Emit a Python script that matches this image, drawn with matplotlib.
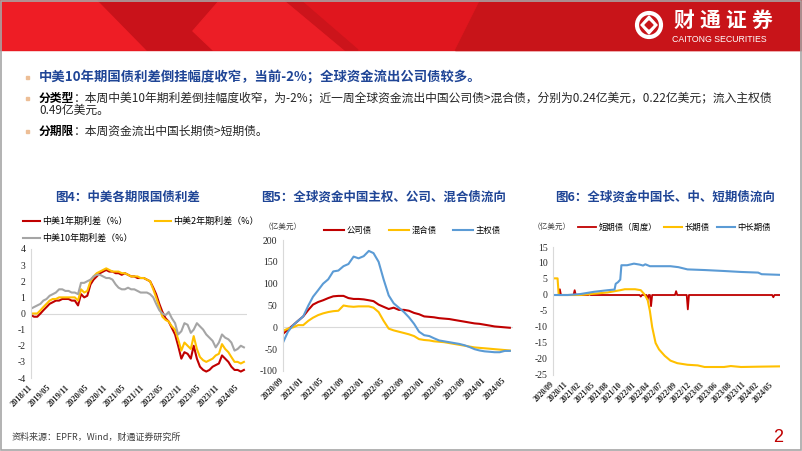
import matplotlib
matplotlib.use("Agg")
import matplotlib.pyplot as plt
from matplotlib.patches import Polygon, Rectangle, Circle
import pandas as pd

plt.rcParams['font.family'] = ['Noto Sans CJK SC', 'DejaVu Sans']

W, H = 802, 451

# ---------------- 图4 data: monthly, 2018/11 - 2024/07 ----------------
c1_dates = pd.date_range('2018-11-01', '2024-07-01', freq='MS')
c1_1y = [-0.1, -0.2,
         -0.2, 0.0, 0.2, 0.4, 0.6, 0.7, 0.8, 0.8, 0.9, 0.9, 0.9, 0.8,
         0.8, 0.5, 1.2, 1.0, 1.1, 1.8, 2.1, 2.3, 2.5, 2.6, 2.7, 2.6,
         2.6, 2.5, 2.5, 2.4, 2.5, 2.4, 2.3, 2.3, 2.2, 2.2, 2.2, 2.1,
         2.0, 1.6, 1.2, 0.6, 0.1, -0.3, -0.5, -0.9, -1.3, -2.0, -2.8, -2.4,
         -2.5, -2.8, -2.0, -2.8, -3.3, -3.5, -3.6, -3.5, -3.3, -3.2, -3.1, -2.6,
         -2.8, -3.0, -3.3, -3.5, -3.5, -3.6, -3.5]
c1_2y = [0.0, 0.0,
         0.0, 0.2, 0.4, 0.6, 0.8, 0.9, 0.9, 1.0, 1.0, 1.0, 1.0, 1.0,
         1.0, 0.8, 1.5, 1.3, 1.4, 2.0, 2.3, 2.5, 2.6, 2.7, 2.8, 2.7,
         2.6, 2.6, 2.6, 2.5, 2.5, 2.4, 2.3, 2.3, 2.3, 2.2, 2.2, 2.1,
         2.0, 1.5, 1.0, 0.4, -0.2, -0.4, -0.5, -0.8, -1.0, -1.6, -2.3, -1.8,
         -2.0, -2.2, -1.4, -2.2, -2.7, -2.9, -3.0, -2.9, -2.8, -2.6, -2.5, -1.9,
         -2.2, -2.4, -2.7, -3.0, -3.0, -3.1, -3.0]
c1_10y = [0.3, 0.4,
          0.5, 0.6, 0.8, 0.9, 1.1, 1.2, 1.3, 1.5, 1.5, 1.4, 1.4, 1.3,
          1.3, 1.2, 1.9, 1.9, 2.0, 2.1, 2.3, 2.4, 2.4, 2.3, 2.2, 2.2,
          2.1, 1.8, 1.6, 1.5, 1.5, 1.6, 1.5, 1.5, 1.4, 1.3, 1.3, 1.3,
          1.2, 1.0, 0.6, 0.2, 0.0, -0.1, 0.1, -0.3, -0.6, -1.3, -1.1, -0.6,
          -0.7, -1.2, -1.0, -0.6, -0.8, -1.0, -1.3, -1.5, -1.7, -2.1, -1.8, -1.3,
          -1.5, -1.6, -1.8, -2.3, -2.2, -2.0, -2.1]
c1_ticks = ['2018/11', '2019/05', '2019/11', '2020/05', '2020/11', '2021/05',
            '2021/11', '2022/05', '2022/11', '2023/05', '2023/11', '2024/05']

# ---------------- 图5 data: monthly, 2020/09 - 2024/06 (亿美元) ----------------
c2_dates = pd.date_range('2020-09-01', '2024-06-01', freq='MS')
c2_corp = [-15, -5, 5, 15,
           25, 40, 52, 58, 62, 67, 71, 72, 72, 67, 65, 65,
           64, 62, 60, 52, 47, 42, 45, 40, 40, 38, 33, 30,
           25, 24, 23, 21, 20, 19, 17, 15, 13, 11, 9, 8,
           6, 4, 2, 1, 0, -1]
c2_hybrid = [-8, -3, 0, 5,
             5, 15, 22, 28, 32, 35, 37, 38, 50, 48, 47, 48,
             48, 48, 45, 35, 15, -3, -7, -10, -13, -16, -20, -27,
             -29, -30, -32, -33, -34, -36, -38, -40, -42, -44, -46, -47,
             -48, -49, -50, -51, -52, -53]
c2_sov = [-35, -10, 5, 15,
          25, 50, 70, 85, 100, 110, 128, 130, 140, 145, 162, 158,
          163, 175, 170, 150, 110, 73, 55, 45, 35, 23, 8, -10,
          -18, -20, -25, -30, -32, -34, -36, -38, -41, -45, -50, -53,
          -55, -56, -57, -57, -54, -54]
c2_ticks = ['2020/09', '2021/01', '2021/05', '2021/09', '2022/01', '2022/05',
            '2022/09', '2023/01', '2023/05', '2023/09', '2024/01', '2024/05']

# ---------------- 图6 data (亿美元) ----------------
c3_short_dates = ['2020-09-02', '2020-10-07', '2020-10-14', '2020-10-21',
                  '2021-01-06', '2021-01-13', '2021-01-20',
                  '2021-04-07', '2021-04-14', '2021-04-21',
                  '2022-02-16', '2022-02-23', '2022-03-02',
                  '2022-03-30', '2022-04-06', '2022-04-13',
                  '2022-04-20', '2022-04-27', '2022-05-04',
                  '2022-09-21', '2022-09-28', '2022-10-05',
                  '2022-12-02', '2022-12-09', '2022-12-16',
                  '2024-05-10', '2024-05-17', '2024-05-24', '2024-06-26']
c3_short = [0, 0, 1.8, 0,
            0, 1.5, 0,
            0, 0.5, 0,
            0, -0.5, 0,
            0, -1.5, 0,
            0, -3.5, 0,
            0, 1.2, 0,
            0, -4.5, 0,
            0, -0.7, 0, 0]
c3_long_dates = ['2020-09-02', '2020-09-30', '2020-10-07', '2021-02-17', '2021-05-12',
                 '2021-08-04', '2021-10-20', '2021-11-17', '2022-01-19', '2022-02-23',
                 '2022-03-16', '2022-04-06', '2022-04-20', '2022-05-04', '2022-05-25',
                 '2022-06-15', '2022-07-20', '2022-08-24', '2022-10-05', '2022-12-07',
                 '2023-02-08', '2023-03-22', '2023-07-19', '2023-08-30', '2023-11-01',
                 '2024-02-14', '2024-06-26']
c3_long = [5.2, 5.2, 0.0, 0.0, 0.4,
           0.8, 1.5, 1.8, 1.8, 1.5,
           0.3, -1.5, -5.0, -10.0, -15.0,
           -17.0, -19.0, -20.5, -21.3, -21.8,
           -22.0, -22.5, -22.5, -22.2, -22.5,
           -22.4, -22.3]
c3_mid_dates = ['2020-09-02', '2020-12-01', '2021-02-17', '2021-05-12', '2021-08-04',
                '2021-09-15', '2021-09-22', '2021-10-06', '2021-10-20', '2021-10-27',
                '2021-12-01', '2022-01-12', '2022-02-16', '2022-03-09', '2022-03-23',
                '2022-04-20', '2022-08-24', '2022-10-12', '2022-12-07', '2023-03-22',
                '2023-07-19', '2023-11-01', '2024-02-14', '2024-03-06', '2024-06-26']
c3_mid = [0.0, 0.0, 0.3, 1.0, 1.5,
          1.7, 3.5, 4.0, 4.8, 9.3,
          9.3, 9.8, 9.5, 9.2, 9.6,
          9.0, 9.0, 8.7, 8.0, 7.8,
          7.5, 7.2, 7.0, 6.5, 6.3]
c3_ticks = ['2020/09', '2020/11', '2021/02', '2021/05', '2021/08', '2021/10',
            '2022/01', '2022/04', '2022/07', '2022/09', '2022/12', '2023/03',
            '2023/06', '2023/08', '2023/11', '2024/02', '2024/05']

RED = '#C00000'
YEL = '#FFC000'
GRY = '#A5A5A5'
BLU = '#5B9BD5'
TITLE_BLUE = '#1F4596'

fig = plt.figure(figsize=(W / 100, H / 100), dpi=100, facecolor='white')

# background layer in pixel coordinates
bg = fig.add_axes([0, 0, 1, 1])
bg.set_xlim(0, W)
bg.set_ylim(H, 0)
bg.axis('off')

# red header band
bg.add_patch(Rectangle((0, 0), W, 50, color='#E0161E'))
bg.add_patch(Polygon([(0, 0), (98, 0), (147, 50), (0, 50)], color='#EE1D25'))
bg.add_patch(Polygon([(98, 0), (220, 0), (193, 31), (213, 50), (147, 50)], color='#C9121A'))
bg.add_patch(Polygon([(220, 0), (285, 0), (345, 50), (213, 50), (193, 31)], color='#EC1E26'))
bg.add_patch(Polygon([(285, 0), (300, 0), (358, 50), (345, 50)], color='#CC141B'))
bg.add_patch(Polygon([(480, 0), (W, 0), (W, 50), (455, 50)], color='#C81419'))

# logo
bg.add_patch(Circle((649, 25), 12, fill=False, ec='white', lw=3))
bg.add_patch(Polygon([(649, 16), (657, 25), (649, 34), (641, 25)], color='white'))
bg.add_patch(Polygon([(649, 21), (653, 25), (649, 29), (645, 25)], color='#C81419'))
for i, ch in enumerate('财通证券'):
    bg.text(673 + i * 26, 20, ch, color='white', fontsize=15, fontweight='bold',
            ha='left', va='center')
bg.text(672, 39, 'CAITONG SECURITIES', color='white', fontsize=6.3,
        family='Liberation Sans', ha='left', va='center')

# bullets
for yb in [77, 98, 131]:
    bg.add_patch(Rectangle((25.5, yb - 1.5), 3, 3, color='#EDBE96'))

bg.text(39, 77, '中美10年期国债利差倒挂幅度收窄，当前-2%；全球资金流出公司债较多。',
        color=TITLE_BLUE, fontsize=9.6, fontweight='bold', va='center')
fs = 8.5
em = fs * 100 / 72
bg.text(39, 98, '分类型', fontsize=fs, fontweight='bold', color='black', va='center')
bg.text(39 + 3 * em, 98,
        '：本周中美10年期利差倒挂幅度收窄，为-2%；近一周全球资金流出中国公司债>混合债，'
        '分别为0.24亿美元，0.22亿美元；流入主权债',
        fontsize=fs, color='#262626', va='center')
bg.text(39, 110, '0.49亿美元。', fontsize=fs, color='#262626', va='center')
bg.text(39, 131, '分期限', fontsize=fs, fontweight='bold', color='black', va='center')
bg.text(39 + 3 * em, 131, '：本周资金流出中国长期债>短期债。',
        fontsize=fs, color='#262626', va='center')

# chart titles
bg.text(128, 197, '图4：中美各期限国债利差', color=TITLE_BLUE, fontsize=9,
        fontweight='bold', ha='center', va='center')
bg.text(384, 197, '图5：全球资金中国主权、公司、混合债流向', color=TITLE_BLUE, fontsize=9,
        fontweight='bold', ha='center', va='center')
bg.text(665, 197, '图6：全球资金中国长、中、短期债流向', color=TITLE_BLUE, fontsize=9,
        fontweight='bold', ha='center', va='center')

# unit labels
bg.text(264, 227, '（亿美元）', fontsize=5.5, color='#404040', va='center')
bg.text(533, 227, '（亿美元）', fontsize=5.5, color='#404040', va='center')

# footer
bg.text(12, 437, '资料来源：EPFR，Wind，财通证券研究所', fontsize=6.5, color='#404040',
        va='center')
bg.text(778, 437, '2', fontsize=13, color='#C00000', family='Liberation Sans',
        ha='center', va='center')

# slide frame
bg.add_patch(Rectangle((0.5, 0.5), W - 1.5, H - 1.5, fill=False, ec='#A6A6A6', lw=1.2))


def add_ax(left, top, right, bottom):
    return fig.add_axes([left / W, 1 - bottom / H, (right - left) / W, (bottom - top) / H])


def style(ax, ylim, yticks, tick_pos, tick_labels, xfs=6):
    for s in ['top', 'right', 'bottom']:
        ax.spines[s].set_visible(False)
    ax.spines['left'].set_color('#D9D9D9')
    ax.set_facecolor('none')
    ax.axhline(0, color='#D9D9D9', lw=0.8, zorder=0)
    ax.set_ylim(*ylim)
    ax.set_yticks(yticks)
    ax.set_yticklabels([str(v) for v in yticks], family='Liberation Serif', fontsize=7,
                       color='#262626')
    ax.set_xticks(tick_pos)
    ax.set_xticklabels(tick_labels, rotation=45, ha='right', va='center',
                       rotation_mode='anchor', family='Liberation Serif',
                       fontweight='bold', fontsize=xfs, color='#262626')
    ax.tick_params(length=0)
    ax.tick_params(axis='y', pad=4)
    ax.tick_params(axis='x', pad=6)


# ---------------- 图4 ----------------
ax1 = add_ax(31, 249, 247, 378)
l1, = ax1.plot(c1_dates, c1_1y, color=RED, lw=1.5, label='中美1年期利差（%）')
l2, = ax1.plot(c1_dates, c1_2y, color=YEL, lw=1.5, label='中美2年期利差（%）')
l3, = ax1.plot(c1_dates, c1_10y, color=GRY, lw=1.5, label='中美10年期利差（%）')
ax1.set_xlim(pd.Timestamp('2018-11-01'), pd.Timestamp('2024-07-31'))
style(ax1, (-4, 4), list(range(-4, 5)), pd.to_datetime(c1_ticks, format='%Y/%m'), c1_ticks)
ax1.legend([l1, l3, l2], [l1.get_label(), l3.get_label(), l2.get_label()],
           ncol=2, loc='upper left', bbox_to_anchor=(-0.035, 1.25), frameon=False,
           fontsize=6.5, handlelength=1.8, handletextpad=0.3, columnspacing=2.4,
           labelspacing=0.9, borderpad=0, borderaxespad=0)

# ---------------- 图5 ----------------
ax2 = add_ax(283, 240, 513, 371)
m1, = ax2.plot(c2_dates, c2_corp, color=RED, lw=1.5, label='公司债')
m2, = ax2.plot(c2_dates, c2_hybrid, color=YEL, lw=1.5, label='混合债')
m3, = ax2.plot(c2_dates, c2_sov, color=BLU, lw=1.5, label='主权债')
ax2.set_xlim(pd.Timestamp('2020-09-01'), pd.Timestamp('2024-06-20'))
style(ax2, (-100, 200), list(range(-100, 201, 50)),
      pd.to_datetime(c2_ticks, format='%Y/%m'), c2_ticks)
ax2.legend(ncol=3, loc='center left', bbox_to_anchor=(0.18, 1.076), frameon=False,
           fontsize=6, handlelength=2.4, handletextpad=0.3, columnspacing=2.0,
           borderpad=0, borderaxespad=0)

# ---------------- 图6 ----------------
ax3 = add_ax(553, 247, 780, 375)
n1, = ax3.plot(pd.to_datetime(c3_short_dates), c3_short, color=RED, lw=1.3,
               label='短期债（周度）')
n2, = ax3.plot(pd.to_datetime(c3_long_dates), c3_long, color=YEL, lw=1.5, label='长期债')
n3, = ax3.plot(pd.to_datetime(c3_mid_dates), c3_mid, color=BLU, lw=1.5, label='中长期债')
ax3.set_xlim(pd.Timestamp('2020-09-02'), pd.Timestamp('2024-06-27'))
c3_pos = pd.date_range('2020-09-02', periods=len(c3_ticks), freq='84D')
style(ax3, (-25, 15), list(range(-25, 16, 5)), c3_pos, c3_ticks, xfs=5.6)
ax3.legend(ncol=3, loc='center left', bbox_to_anchor=(0.11, 1.156), frameon=False,
           fontsize=6, handlelength=2.2, handletextpad=0.3, columnspacing=0.8,
           borderpad=0, borderaxespad=0)

fig.savefig('out.png', dpi=100)
